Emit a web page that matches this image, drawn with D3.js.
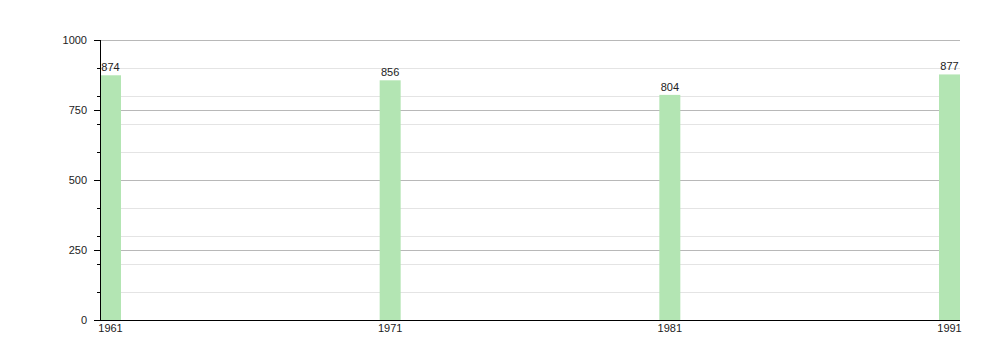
<!DOCTYPE html>
<html>
<head>
<meta charset="utf-8">
<script src="https://cdn.jsdelivr.net/npm/d3@7"></script>
<style>
  body { margin: 0; background: #fff; }
  svg text { font-family: "Liberation Sans", Arial, sans-serif; font-size: 11px; fill: #222; }
</style>
</head>
<body>
<div id="chart"></div>
<script>
// data
const years = [1961, 1971, 1981, 1991];
const population = [874, 856, 804, 877];
const majorTicks = [0, 250, 500, 750, 1000];
const minorTicks = [100, 200, 300, 400, 600, 700, 800, 900];

const width = 1000;
const height = 360;
const margin = { top: 40, right: 40, bottom: 40, left: 100 };
const innerWidth = width - margin.left - margin.right;
const innerHeight = height - margin.top - margin.bottom;
const barWidth = 21;

const svg = d3.select("#chart")
  .append("svg")
  .attr("width", width)
  .attr("height", height);

const g = svg.append("g")
  .attr("transform", `translate(${margin.left},${margin.top})`);

// scales
const x = d3.scaleLinear()
  .domain([years[0], years[years.length - 1]])
  .range([0, innerWidth - barWidth]);

const y = d3.scaleLinear()
  .domain([0, 1000])
  .range([innerHeight, 0]);

// gridlines
g.append("g")
  .selectAll("line")
  .data(minorTicks)
  .join("line")
  .attr("x1", 0).attr("x2", innerWidth)
  .attr("y1", d => y(d) + 0.5).attr("y2", d => y(d) + 0.5)
  .attr("stroke", "#e4e4e4");

g.append("g")
  .selectAll("line")
  .data(majorTicks.filter(d => d > 0))
  .join("line")
  .attr("x1", 0).attr("x2", innerWidth)
  .attr("y1", d => y(d) + 0.5).attr("y2", d => y(d) + 0.5)
  .attr("stroke", "#b8b8b8");

// bars
g.selectAll("rect.bar")
  .data(years)
  .join("rect")
  .attr("class", "bar")
  .attr("x", d => x(d))
  .attr("y", (d, i) => y(population[i]))
  .attr("width", barWidth)
  .attr("height", (d, i) => innerHeight - y(population[i]))
  .attr("fill", "#b3e5b3");

// value labels
g.selectAll("text.val")
  .data(years)
  .join("text")
  .attr("class", "val")
  .attr("x", d => x(d) + barWidth / 2)
  .attr("y", (d, i) => y(population[i]) - 4)
  .attr("text-anchor", "middle")
  .text((d, i) => population[i]);

// y axis
const yAxis = g.append("g")
  .call(d3.axisLeft(y).tickValues(majorTicks).tickSize(6).tickPadding(7).tickFormat(d3.format("d")));
yAxis.select(".domain").attr("stroke", "#000").attr("d", `M0.5,0V${innerHeight}`);
yAxis.selectAll(".tick line").attr("stroke", "#000");

const yMinor = g.append("g")
  .call(d3.axisLeft(y).tickValues(minorTicks).tickSize(3).tickFormat(""));
yMinor.select(".domain").remove();
yMinor.selectAll(".tick line").attr("stroke", "#000");

// x axis
const xAxis = g.append("g")
  .attr("transform", `translate(0,${innerHeight})`)
  .call(d3.axisBottom(x).tickValues(years).tickFormat(d3.format("d")).tickSize(0).tickPadding(4));
xAxis.select(".domain").attr("stroke", "#000").attr("d", `M0,0.5H${innerWidth}`);
xAxis.selectAll(".tick").attr("transform", d => `translate(${x(d) + barWidth / 2},0)`);

g.selectAll(".tick text")
  .style("font-family", "'Liberation Sans', Arial, sans-serif")
  .style("font-size", "11px")
  .style("fill", "#222");
</script>
</body>
</html>
